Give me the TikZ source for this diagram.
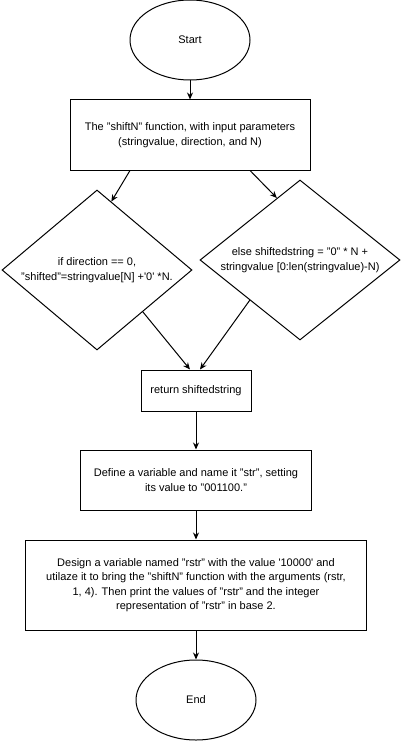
\documentclass[tikz,border=0pt]{standalone}
\usepackage{fontspec}
\setmainfont{Liberation Sans}
\usetikzlibrary{arrows.meta,shapes.geometric,calc}

\begin{document}
\begin{tikzpicture}[x=1pt, y=-1pt,
  every node/.style={font=\fontsize{11}{14.5}\selectfont, align=center},
  term/.style={draw, ellipse, line width=1pt, minimum width=120pt, minimum height=80pt, inner sep=0pt},
  proc/.style={draw, rectangle, line width=1pt, inner sep=0pt},
  decision/.style={draw, diamond, line width=1pt, inner sep=0pt},
  flow/.style={line width=1pt, -{Stealth[length=7pt,width=6pt]}}]
  \useasboundingbox (0,0) rectangle (401,741);

  % Start / function header
  \node[term] (start) at (190,40) {Start};
  \node[proc, minimum width=240pt, minimum height=70pt] (fn) at (190,135)
    {The "shiftN" function, with input parameters\\(stringvalue, direction, and N)};

  % The two branches
  \node[decision, minimum width=190pt, minimum height=160pt,
    label={[align=center]center:{if direction == 0,\\"shifted"=stringvalue[N] +\textquotesingle 0\textquotesingle\ *N.}}]
    (left) at (97,270) {};
  \node[decision, minimum width=200pt, minimum height=160pt,
    label={[align=center]center:{else shiftedstring = "0" * N +\\stringvalue [0:len(stringvalue)-N)}}]
    (right) at (300,260) {};

  % Return and main program
  \node[proc, minimum width=110pt, minimum height=41pt] (ret) at (196,390.5) {return shiftedstring};
  \node[proc, minimum width=231pt, minimum height=60pt] (def) at (196,480)
    {Define a variable and name it "str", setting\\its value to "001100."};
  \node[proc, minimum width=341pt, minimum height=90pt] (design) at (196,585)
    {Design a variable named "rstr" with the value \textquotesingle 10000\textquotesingle\ and\\
     utilaze it to bring the "shiftN" function with the arguments (rstr,\\
     1, 4). Then print the values of "rstr" and the integer\\
     representation of "rstr" in base 2.};
  \node[term] (end) at (196,700) {End};

  % Arrows
  \draw[flow] (start) -- (fn);
  \draw[flow] ($(fn.south)+(-60,0)$) -- ($(left.north)!0.15!(left.east)$);
  \draw[flow] ($(fn.south)+(60,0)$) -- ($(right.north)!0.23!(right.west)$);
  \draw[flow] ($(left.east)!0.52!(left.south)$) -- ($(ret.north)+(-6,0)$);
  \draw[flow] ($(right.west)!0.5!(right.south)$) -- ($(ret.north)+(4,0)$);
  \draw[flow] (ret) -- (def);
  \draw[flow] (def) -- (design);
  \draw[flow] (design) -- (end);
\end{tikzpicture}
\end{document}
